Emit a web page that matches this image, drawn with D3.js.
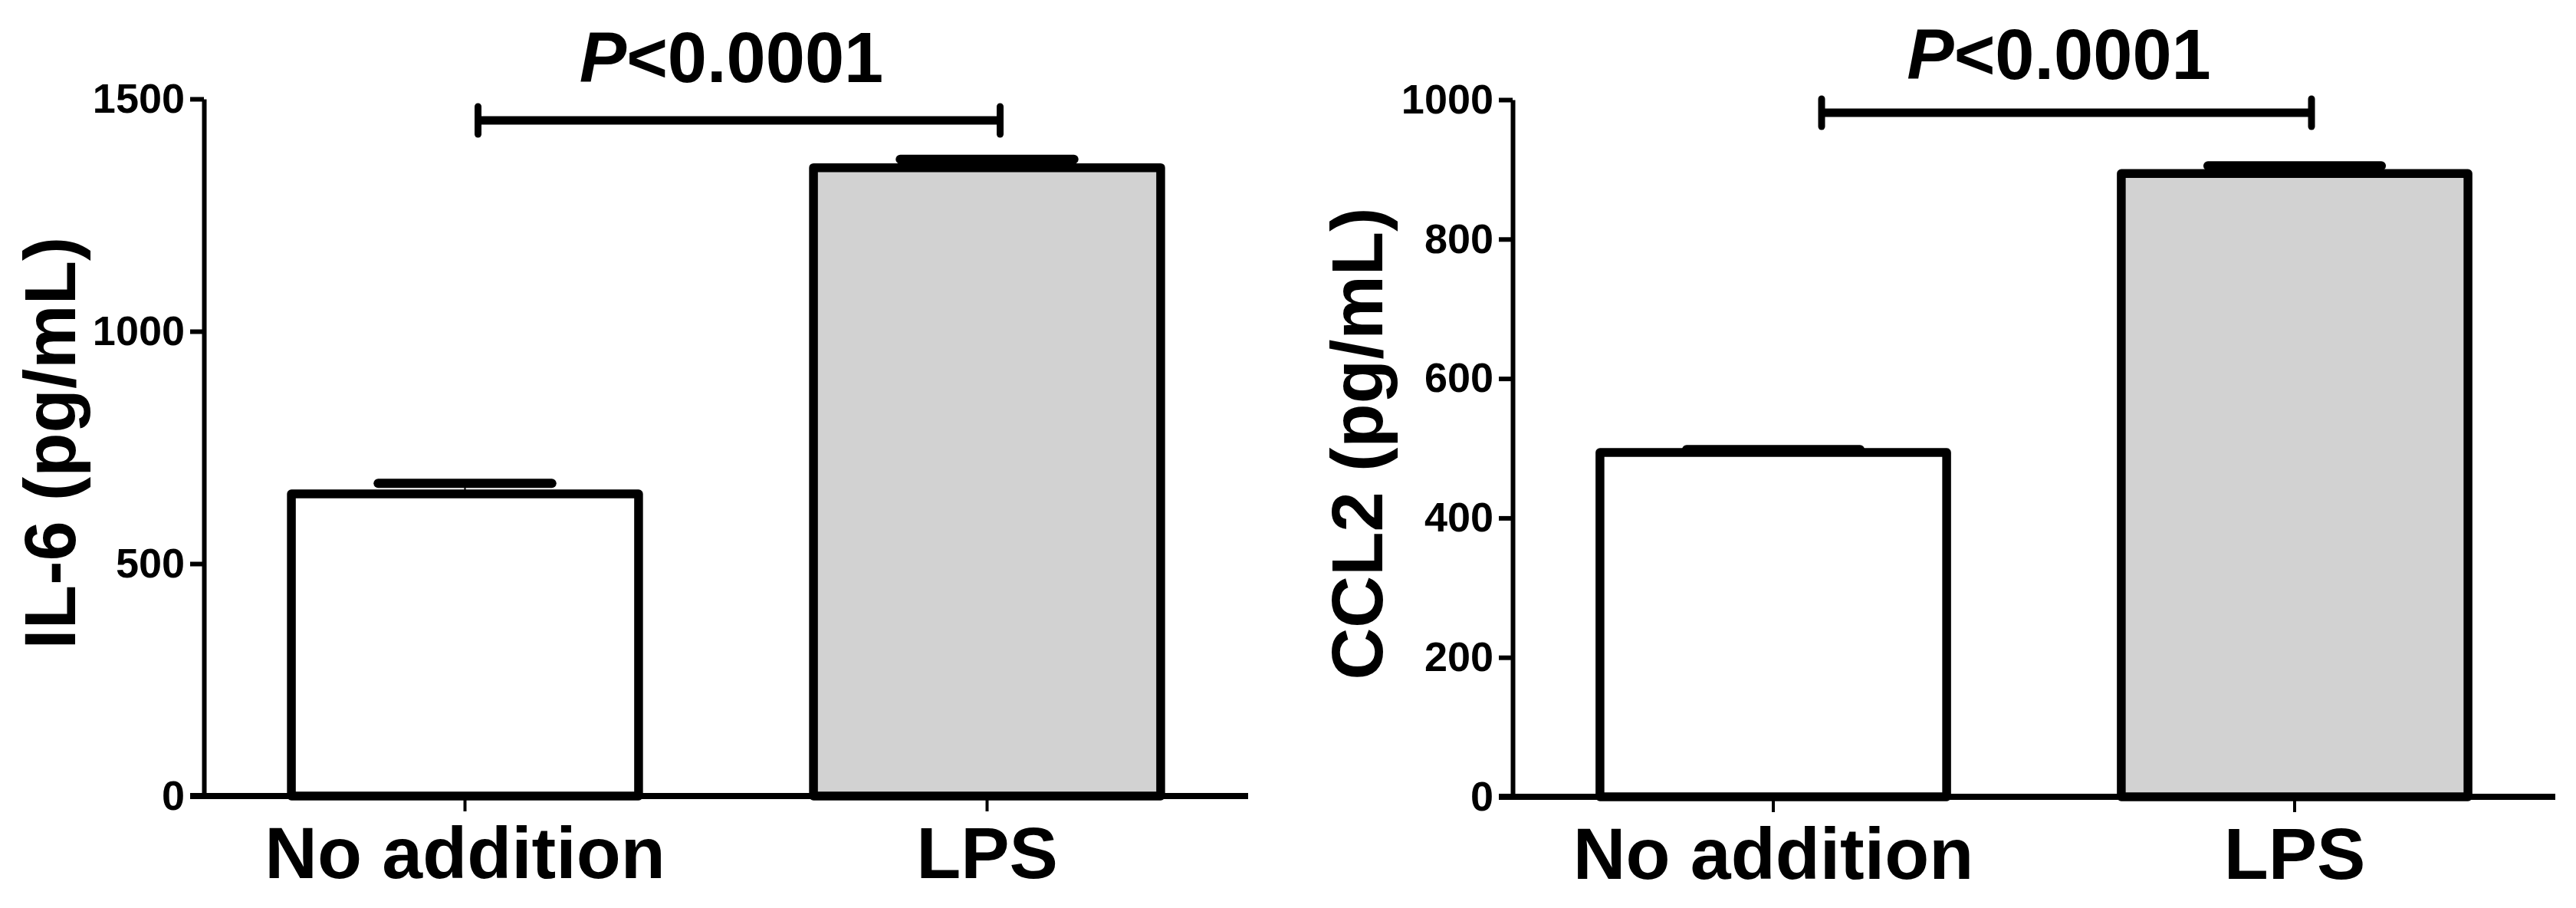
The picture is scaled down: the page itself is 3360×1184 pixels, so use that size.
<!DOCTYPE html>
<html>
<head>
<meta charset="utf-8">
<script src="https://cdn.jsdelivr.net/npm/d3@7"></script>
<style>
  html, body { margin: 0; padding: 0; background: #fff; }
  svg { display: block; font-family: "Liberation Sans", Arial, Helvetica, sans-serif; font-weight: bold; }
</style>
</head>
<body>
<div id="chart"></div>
<script>
// data
var categories = ["No addition", "LPS"];
var barFills = ["#ffffff", "#d2d2d2"];

var il6Mean = [650, 1352];
var il6Sem = [23, 18];
var il6Ticks = [0, 500, 1000, 1500];

var ccl2Mean = [494, 894];
var ccl2Sem = [4, 11];
var ccl2Ticks = [0, 200, 400, 600, 800, 1000];

var pText = "<0.0001";

var width = 3360, height = 1184;

var svg = d3.select("#chart").append("svg")
    .attr("width", width)
    .attr("height", height);

// layout for each panel (pixels)
var panels = [
  { mean: il6Mean, sem: il6Sem, ticks: il6Ticks, title: "IL-6 (pg/mL)",
    x0: 266, x1: 1628, y0: 1038, y1: 129, titleX: 98,
    bracketY: 157, bracketOff: [17, 17], pY: 107 },
  { mean: ccl2Mean, sem: ccl2Sem, ticks: ccl2Ticks, title: "CCL2 (pg/mL)",
    x0: 1973, x1: 3333, y0: 1039, y1: 130, titleX: 1803,
    bracketY: 147, bracketOff: [63, 22], pY: 103 }
];

panels.forEach(function(p) {
  var g = svg.append("g");

  var x = d3.scaleBand()
    .domain(categories)
    .range([p.x0, p.x1])
    .paddingInner(0.335)
    .paddingOuter(0.1675);

  var y = d3.scaleLinear()
    .domain([0, d3.max(p.ticks)])
    .range([p.y0, p.y1]);

  var rows = categories.map(function(c, i) {
    return { cat: c, mean: p.mean[i], sem: p.sem[i], fill: barFills[i] };
  });

  // bars
  g.selectAll(".bar")
    .data(rows)
    .enter().append("rect")
    .attr("class", "bar")
    .attr("x", function(d) { return x(d.cat); })
    .attr("width", x.bandwidth())
    .attr("y", function(d) { return y(d.mean); })
    .attr("height", function(d) { return y(0) - y(d.mean); })
    .style("fill", function(d) { return d.fill; })
    .style("stroke", "#000")
    .style("stroke-width", 11.5)
    .style("stroke-linejoin", "round");

  // error bars (mean + SEM only)
  var eb = g.selectAll(".err")
    .data(rows)
    .enter().append("g")
    .attr("class", "err");
  eb.append("line")
    .attr("x1", function(d) { return x(d.cat) + x.bandwidth() / 2; })
    .attr("x2", function(d) { return x(d.cat) + x.bandwidth() / 2; })
    .attr("y1", function(d) { return y(d.mean); })
    .attr("y2", function(d) { return y(d.mean + d.sem); })
    .style("stroke", "#000")
    .style("stroke-width", 2);
  eb.append("line")
    .attr("x1", function(d) { return x(d.cat) + x.bandwidth() / 4; })
    .attr("x2", function(d) { return x(d.cat) + x.bandwidth() * 3 / 4; })
    .attr("y1", function(d) { return y(d.mean + d.sem); })
    .attr("y2", function(d) { return y(d.mean + d.sem); })
    .style("stroke", "#000")
    .style("stroke-width", 12)
    .style("stroke-linecap", "round");

  // y axis
  var yAxis = d3.axisLeft(y)
    .tickValues(p.ticks)
    .tickFormat(d3.format("d"))
    .tickSize(18)
    .tickSizeOuter(0)
    .tickPadding(7);
  var ya = g.append("g")
    .attr("transform", "translate(" + p.x0 + ",0)")
    .call(yAxis);
  ya.select(".domain").style("stroke", "#000").style("stroke-width", 6);
  ya.selectAll(".tick line").style("stroke", "#000").style("stroke-width", 6);
  ya.selectAll(".tick text")
    .style("font-size", "54px")
    .style("font-weight", "bold")
    .style("font-family", "'Liberation Sans', Arial, sans-serif")
    .style("fill", "#000");

  // x axis
  var xAxis = d3.axisBottom(x)
    .tickSize(20)
    .tickSizeOuter(0)
    .tickPadding(20);
  var xa = g.append("g")
    .attr("transform", "translate(0," + p.y0 + ")")
    .call(xAxis);
  xa.select(".domain").remove();
  xa.selectAll(".tick line").style("stroke", "#000").style("stroke-width", 4);
  xa.selectAll(".tick text")
    .style("font-size", "95px")
    .style("font-weight", "bold")
    .style("font-family", "'Liberation Sans', Arial, sans-serif")
    .style("fill", "#000")
    .attr("dy", "0.71em");
  g.append("line")
    .attr("x1", p.x0 - 18)
    .attr("x2", p.x1)
    .attr("y1", p.y0)
    .attr("y2", p.y0)
    .style("stroke", "#000")
    .style("stroke-width", 8);

  // axis title
  g.append("text")
    .attr("transform", "translate(" + p.titleX + "," + ((p.y0 + p.y1) / 2 - 6) + ") rotate(-90)")
    .attr("text-anchor", "middle")
    .style("font-size", "94px")
    .style("fill", "#000")
    .text(p.title);

  // significance bracket
  var bx1 = x(categories[0]) + x.bandwidth() / 2 + p.bracketOff[0];
  var bx2 = x(categories[1]) + x.bandwidth() / 2 + p.bracketOff[1];
  var br = g.append("g").style("stroke", "#000").style("stroke-linecap", "round");
  br.append("line")
    .attr("x1", bx1).attr("x2", bx2)
    .attr("y1", p.bracketY).attr("y2", p.bracketY)
    .style("stroke-width", 11)
    .style("stroke-linecap", "butt");
  [bx1, bx2].forEach(function(bx) {
    br.append("line")
      .attr("x1", bx).attr("x2", bx)
      .attr("y1", p.bracketY - 18).attr("y2", p.bracketY + 18)
      .style("stroke-width", 9);
  });

  var pt = g.append("text")
    .attr("x", (bx1 + bx2) / 2 - 10)
    .attr("y", p.pY)
    .attr("text-anchor", "middle")
    .style("font-size", "92px")
    .style("fill", "#000");
  pt.append("tspan").style("font-style", "italic").text("P");
  pt.append("tspan").text(pText);
});
</script>
</body>
</html>
